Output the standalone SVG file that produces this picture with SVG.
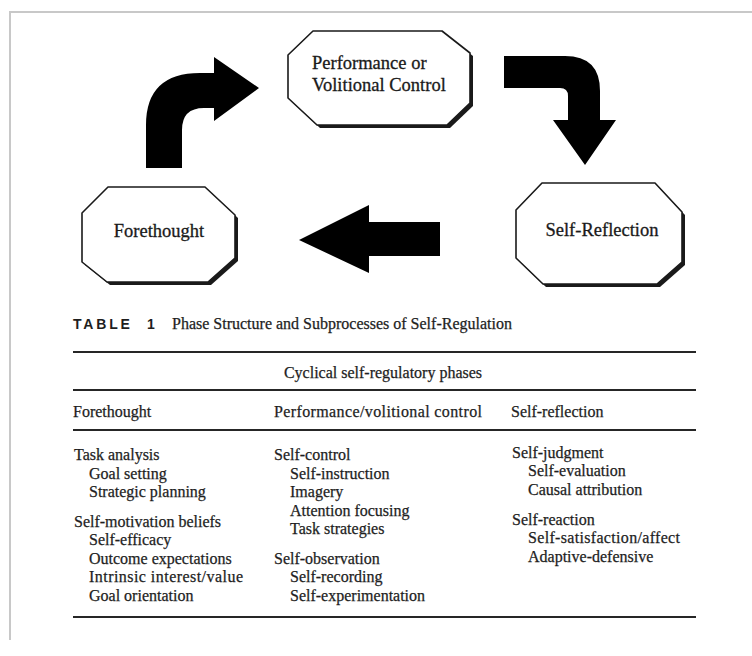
<svg xmlns="http://www.w3.org/2000/svg" width="752" height="656" viewBox="0 0 752 656">
<style>
  .frame{stroke:#c8c8c8;stroke-width:2;fill:none}
  .shadow{fill:#1a1a1a}
  .oct{fill:#ffffff;stroke:#1a1a1a;stroke-width:1.6;stroke-linejoin:round}
  .lbl{font-family:"Liberation Serif","Times New Roman",serif;font-size:18.5px;fill:#1a1a1a;stroke:#1a1a1a;stroke-width:0.3}
  .arrow{fill:#000000}
  .t{font-family:"Liberation Serif","Times New Roman",serif;font-size:16px;fill:#1e1e1e;stroke:#1e1e1e;stroke-width:0.25}
  .rule{stroke:#262626;stroke-width:2}
  .tab{font-family:"Liberation Sans",Arial,sans-serif;font-weight:bold;font-size:14px;letter-spacing:2.8px;fill:#1e1e1e}
</style>
<rect width="752" height="656" fill="#ffffff"/>
<path class="frame" d="M10,640 L10,12 L752,12"/>

<g id="node-performance">
  <polygon class="shadow" points="316,34 445,34 473,56 473,106 450,128 320,128 291,101 291,58"/>
  <polygon class="oct" points="313,31 442,31 470,53 470,103 447,125 317,125 288,98 288,55"/>
  <text class="lbl" x="312" y="69">Performance or</text>
  <text class="lbl" x="312" y="91">Volitional Control</text>
</g>

<g id="node-forethought">
  <polygon class="shadow" points="111,190 208,190 238,218 238,261 211,285 110,285 85,265 85,216"/>
  <polygon class="oct" points="108,187 205,187 235,215 235,258 208,282 107,282 82,262 82,213"/>
  <text class="lbl" x="159" y="237" text-anchor="middle">Forethought</text>
</g>

<g id="node-self-reflection">
  <polygon class="shadow" points="545,186 658,186 685,215 685,265 660,287 546,287 519,261 519,213"/>
  <polygon class="oct" points="542,183 655,183 682,212 682,262 657,284 543,284 516,258 516,210"/>
  <text class="lbl" x="602" y="236" text-anchor="middle">Self-Reflection</text>
</g>

<g id="connectors">
  <path class="arrow" d="M146,168 L146,125 Q146,73 200,73 L214,73 L214,57 L259,88 L214,121 L214,108 L204,108 Q182,108 182,130 L182,168 Z"/>
  <path class="arrow" d="M504,56 L565,56 Q600,56 600,91 L600,120 L616,120 L585,165 L553,120 L568,120 L568,96 Q568,88 560,88 L504,88 Z"/>
  <path class="arrow" d="M440,222 L369,222 L369,205 L299,240 L369,273 L369,256 L440,256 Z"/>
</g>

<g id="table">
  <text class="tab" x="73" y="329">TABLE</text>
  <text class="tab" x="147" y="329">1</text>
  <text class="t" x="172" y="329">Phase Structure and Subprocesses of Self-Regulation</text>
  <line class="rule" x1="73" y1="352" x2="696" y2="352"/>
  <text class="t" x="383" y="378" text-anchor="middle">Cyclical self-regulatory phases</text>
  <line class="rule" x1="73" y1="390" x2="696" y2="390"/>
  <text class="t" x="73" y="417">Forethought</text>
  <text class="t" x="274" y="417" textLength="208" lengthAdjust="spacing">Performance/volitional control</text>
  <text class="t" x="511" y="417">Self-reflection</text>
  <line class="rule" x1="73" y1="430" x2="696" y2="430"/>

  <text class="t" x="74" y="460">Task analysis</text>
  <text class="t" x="89" y="478.5">Goal setting</text>
  <text class="t" x="89" y="497">Strategic planning</text>
  <text class="t" x="74" y="526.5">Self-motivation beliefs</text>
  <text class="t" x="89" y="545">Self-efficacy</text>
  <text class="t" x="89" y="563.5">Outcome expectations</text>
  <text class="t" x="89" y="582" textLength="154" lengthAdjust="spacing">Intrinsic interest/value</text>
  <text class="t" x="89" y="601">Goal orientation</text>

  <text class="t" x="274" y="460">Self-control</text>
  <text class="t" x="290" y="478.5">Self-instruction</text>
  <text class="t" x="290" y="497">Imagery</text>
  <text class="t" x="290" y="515.5">Attention focusing</text>
  <text class="t" x="290" y="534">Task strategies</text>
  <text class="t" x="274" y="563.5">Self-observation</text>
  <text class="t" x="290" y="582">Self-recording</text>
  <text class="t" x="290" y="601">Self-experimentation</text>

  <text class="t" x="512" y="457.5">Self-judgment</text>
  <text class="t" x="528" y="476">Self-evaluation</text>
  <text class="t" x="528" y="494.5">Causal attribution</text>
  <text class="t" x="512" y="524.5">Self-reaction</text>
  <text class="t" x="528" y="543" textLength="152" lengthAdjust="spacing">Self-satisfaction/affect</text>
  <text class="t" x="528" y="561.5">Adaptive-defensive</text>

  <line class="rule" x1="73" y1="617" x2="696" y2="617"/>
</g>
</svg>
